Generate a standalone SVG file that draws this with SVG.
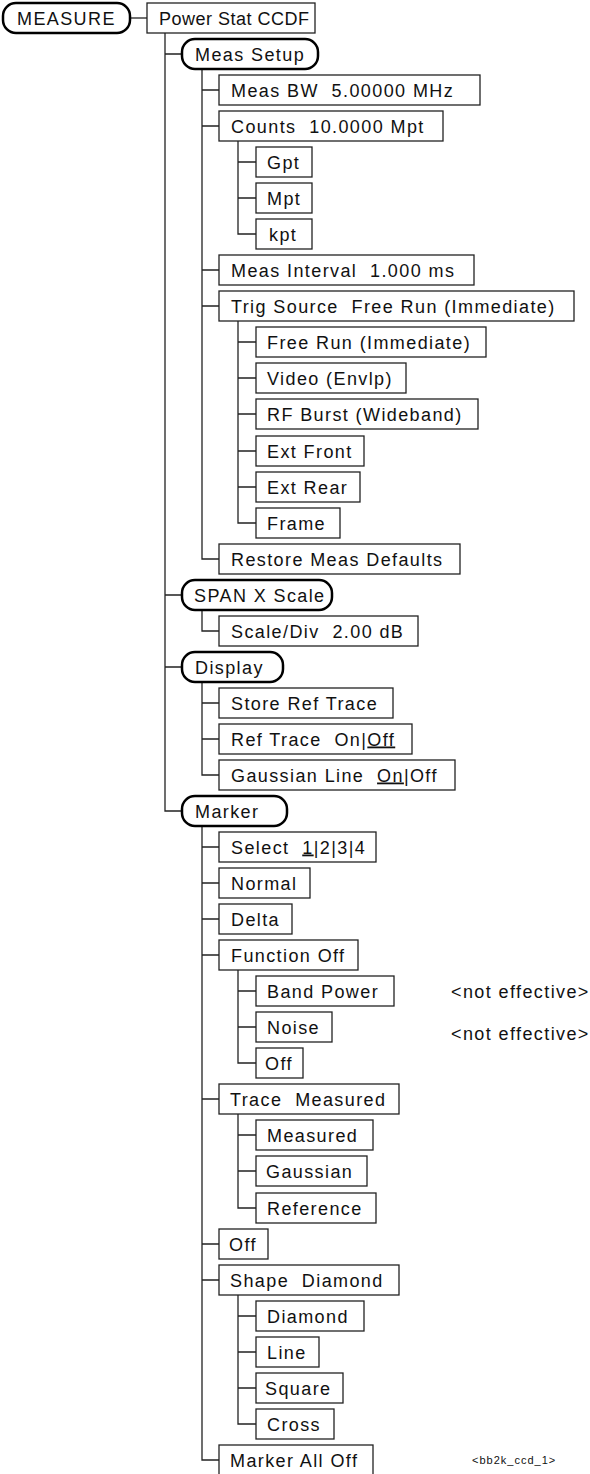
<svg xmlns="http://www.w3.org/2000/svg" width="590" height="1474" viewBox="0 0 590 1474" xml:space="preserve">
<style>
text{font-family:"Liberation Sans",Arial,Helvetica,sans-serif;font-size:18px;letter-spacing:1.4px;fill:#111;white-space:pre}
.b{fill:#fff;stroke:#222;stroke-width:1.3}
.r{fill:#fff;stroke:#000;stroke-width:2.5}
.c{fill:none;stroke:#222;stroke-width:1.3}
.u{text-decoration:underline}
.s{font-size:11px;letter-spacing:1px}
.t{letter-spacing:0.5px}
</style>
<rect width="590" height="1474" fill="#fff"/>
<g id="connectors">
<path class="c" d="M130 18H147"/>
<path class="c" d="M165 33V811H182M165 54H182M165 595H182M165 667H182"/>
<path class="c" d="M202 69V559H219M202 90H219M202 126H219M202 270H219M202 306H219"/>
<path class="c" d="M238 141V234H256M238 162H256M238 198H256"/>
<path class="c" d="M238 321V523H256M238 342H256M238 378H256M238 414H256M238 451H256M238 487H256"/>
<path class="c" d="M202 610V631H219"/>
<path class="c" d="M202 682V775H219M202 703H219M202 739H219"/>
<path class="c" d="M202 826V1460H219M202 847H219M202 883H219M202 919H219M202 955H219M202 1099H219M202 1244H219M202 1280H219"/>
<path class="c" d="M238 970V1063H256M238 991H256M238 1027H256"/>
<path class="c" d="M238 1114V1208H256M238 1135H256M238 1171H256"/>
<path class="c" d="M238 1295V1424H256M238 1316H256M238 1352H256M238 1388H256"/>
</g>
<g id="measure"><rect class="r" x="3" y="3" width="127" height="30" rx="13"/><text x="17" y="25">MEASURE</text></g>
<g id="power-stat"><rect class="b" x="147" y="3" width="168" height="30"/><text class="t" x="159" y="24.5">Power Stat CCDF</text></g>
<g id="meas-setup"><rect class="r" x="182" y="39" width="136" height="30" rx="13"/><text x="195" y="61">Meas Setup</text></g>
<g id="meas-bw"><rect class="b" x="219" y="75" width="261" height="30"/><text x="231" y="96.5">Meas BW  5.00000 MHz</text></g>
<g id="counts"><rect class="b" x="219" y="111" width="224" height="30"/><text x="231" y="132.5">Counts  10.0000 Mpt</text></g>
<g id="gpt"><rect class="b" x="256" y="147" width="56" height="30"/><text x="267" y="168.5">Gpt</text></g>
<g id="mpt"><rect class="b" x="256" y="183" width="56" height="30"/><text x="267" y="204.5">Mpt</text></g>
<g id="kpt"><rect class="b" x="256" y="219" width="56" height="30"/><text x="269" y="240.5">kpt</text></g>
<g id="meas-interval"><rect class="b" x="219" y="255" width="255" height="30"/><text x="231" y="276.5">Meas Interval  1.000 ms</text></g>
<g id="trig-source"><rect class="b" x="219" y="291" width="355" height="30"/><text x="231" y="312.5">Trig Source  Free Run (Immediate)</text></g>
<g id="free-run"><rect class="b" x="256" y="327" width="230" height="30"/><text x="267" y="348.5">Free Run (Immediate)</text></g>
<g id="video"><rect class="b" x="256" y="363" width="150" height="30"/><text x="267" y="384.5">Video (Envlp)</text></g>
<g id="rf-burst"><rect class="b" x="256" y="399" width="222" height="30"/><text x="267" y="420.5">RF Burst (Wideband)</text></g>
<g id="ext-front"><rect class="b" x="256" y="436" width="108" height="30"/><text x="267" y="457.5">Ext Front</text></g>
<g id="ext-rear"><rect class="b" x="256" y="472" width="104" height="30"/><text x="267" y="493.5">Ext Rear</text></g>
<g id="frame"><rect class="b" x="256" y="508" width="84" height="30"/><text x="267" y="529.5">Frame</text></g>
<g id="restore"><rect class="b" x="219" y="544" width="241" height="30"/><text x="231" y="565.5">Restore Meas Defaults</text></g>
<g id="span"><rect class="r" x="182" y="580" width="150" height="30" rx="13"/><text x="194" y="602">SPAN X Scale</text></g>
<g id="scale-div"><rect class="b" x="219" y="616" width="199" height="30"/><text x="231" y="637.5">Scale/Div  2.00 dB</text></g>
<g id="display"><rect class="r" x="182" y="652" width="101" height="30" rx="13"/><text x="195" y="674">Display</text></g>
<g id="store-ref"><rect class="b" x="219" y="688" width="174" height="30"/><text x="231" y="709.5">Store Ref Trace</text></g>
<g id="ref-trace"><rect class="b" x="219" y="724" width="193" height="30"/><text x="231" y="745.5">Ref Trace  On|<tspan class="u">Off</tspan></text></g>
<g id="gaussian-line"><rect class="b" x="219" y="760" width="236" height="30"/><text x="231" y="781.5">Gaussian Line  <tspan class="u">On</tspan>|Off</text></g>
<g id="marker"><rect class="r" x="182" y="796" width="105" height="30" rx="13"/><text x="195" y="818">Marker</text></g>
<g id="select"><rect class="b" x="219" y="832" width="157" height="30"/><text x="231" y="853.5">Select  <tspan class="u">1</tspan>|2|3|4</text></g>
<g id="normal"><rect class="b" x="219" y="868" width="91" height="30"/><text x="231" y="889.5">Normal</text></g>
<g id="delta"><rect class="b" x="219" y="904" width="73" height="30"/><text x="231" y="925.5">Delta</text></g>
<g id="function-off"><rect class="b" x="219" y="940" width="139" height="30"/><text x="231" y="961.5">Function Off</text></g>
<g id="band-power"><rect class="b" x="256" y="976" width="138" height="30"/><text x="267" y="997.5">Band Power</text><text x="451" y="998">&lt;not effective&gt;</text></g>
<g id="noise"><rect class="b" x="256" y="1012" width="76" height="30"/><text x="267" y="1033.5">Noise</text><text x="451" y="1040">&lt;not effective&gt;</text></g>
<g id="fn-off"><rect class="b" x="256" y="1048" width="47" height="30"/><text x="265" y="1069.5">Off</text></g>
<g id="trace"><rect class="b" x="219" y="1084" width="180" height="30"/><text x="230" y="1105.5">Trace  Measured</text></g>
<g id="measured"><rect class="b" x="256" y="1120" width="117" height="30"/><text x="267" y="1141.5">Measured</text></g>
<g id="gaussian"><rect class="b" x="256" y="1156" width="111" height="30"/><text x="266" y="1177.5">Gaussian</text></g>
<g id="reference"><rect class="b" x="256" y="1193" width="120" height="30"/><text x="267" y="1214.5">Reference</text></g>
<g id="off"><rect class="b" x="219" y="1229" width="49" height="30"/><text x="229" y="1250.5">Off</text></g>
<g id="shape"><rect class="b" x="219" y="1265" width="180" height="30"/><text x="230" y="1286.5">Shape  Diamond</text></g>
<g id="diamond"><rect class="b" x="256" y="1301" width="108" height="30"/><text x="267" y="1322.5">Diamond</text></g>
<g id="line"><rect class="b" x="256" y="1337" width="63" height="30"/><text x="267" y="1358.5">Line</text></g>
<g id="square"><rect class="b" x="256" y="1373" width="87" height="30"/><text x="265" y="1394.5">Square</text></g>
<g id="cross"><rect class="b" x="256" y="1409" width="78" height="30"/><text x="267" y="1430.5">Cross</text></g>
<g id="marker-all-off"><rect class="b" x="219" y="1445" width="154" height="30"/><text x="230" y="1466.5">Marker All Off</text></g>
<g id="label"><text class="s" x="472" y="1464">&lt;bb2k_ccd_1&gt;</text></g>
</svg>
